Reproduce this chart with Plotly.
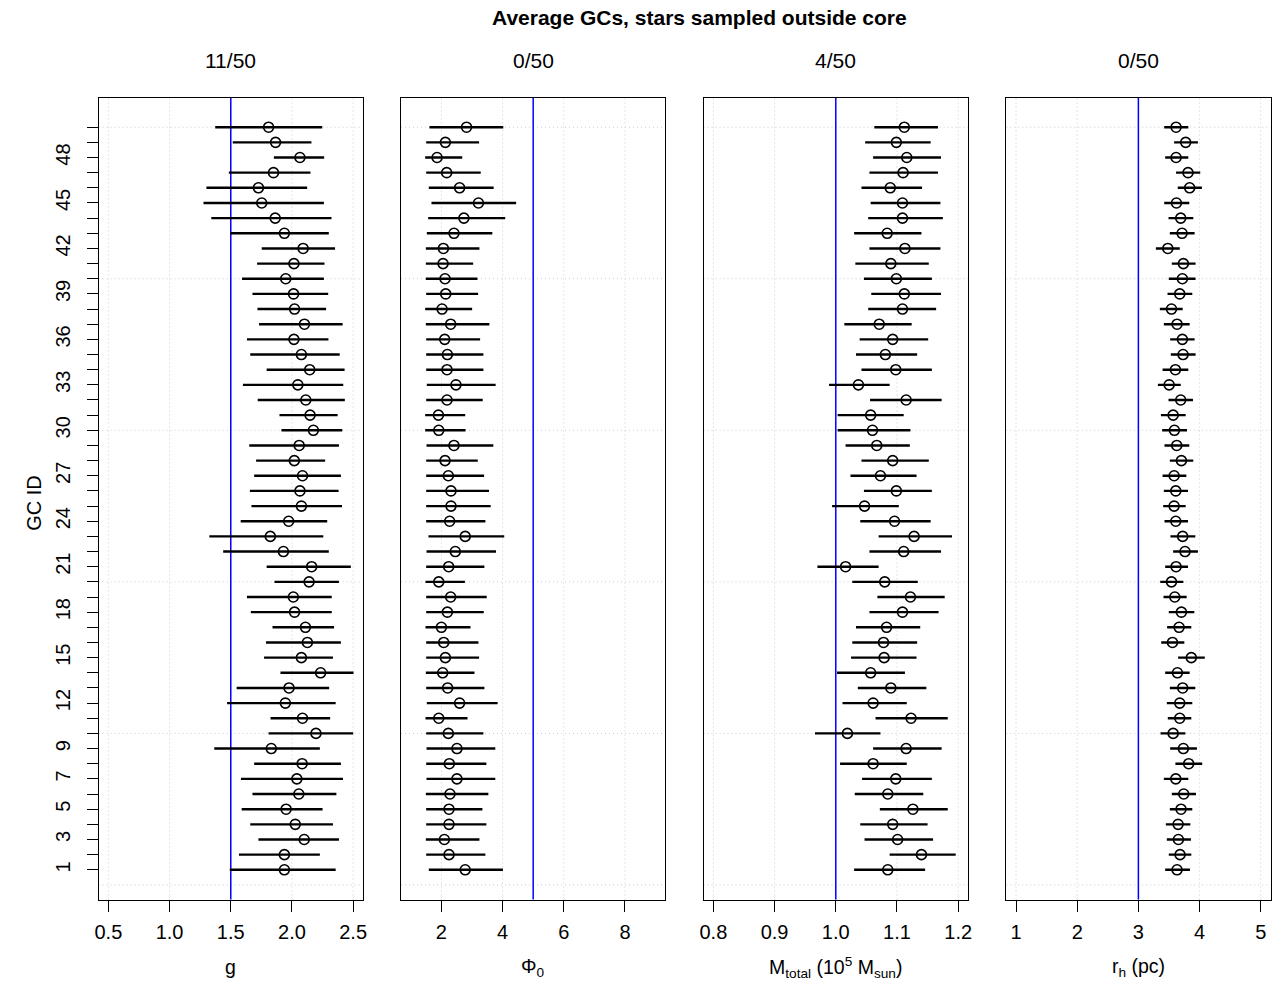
import plotly.graph_objects as go

# ---------------- data (GC 1 .. 50) ----------------
gc_ids = list(range(1, 51))

g_lo = [1.492, 1.567, 1.726, 1.659, 1.589, 1.677, 1.583, 1.691, 1.365, 1.809,
        1.825, 1.470, 1.548, 1.906, 1.772, 1.788, 1.841, 1.664, 1.632, 1.857,
        1.793, 1.438, 1.325, 1.581, 1.669, 1.656, 1.691, 1.707, 1.651, 1.914,
        1.898, 1.720, 1.599, 1.793, 1.659, 1.632, 1.731, 1.718, 1.677, 1.592,
        1.715, 1.753, 1.497, 1.341, 1.277, 1.301, 1.484, 1.852, 1.516, 1.373]
g_mid = [1.938, 1.938, 2.100, 2.027, 1.952, 2.056, 2.040, 2.083, 1.831, 2.196,
         2.086, 1.946, 1.976, 2.234, 2.077, 2.126, 2.110, 2.021, 2.011, 2.140,
         2.161, 1.930, 1.823, 1.973, 2.077, 2.065, 2.086, 2.019, 2.059, 2.175,
         2.148, 2.113, 2.048, 2.145, 2.077, 2.016, 2.102, 2.021, 2.013, 1.949,
         2.016, 2.091, 1.938, 1.863, 1.753, 1.726, 1.849, 2.065, 1.866, 1.809]
g_hi = [2.357, 2.228, 2.384, 2.335, 2.250, 2.363, 2.417, 2.400, 2.228, 2.500,
        2.312, 2.357, 2.304, 2.503, 2.335, 2.400, 2.344, 2.325, 2.325, 2.384,
        2.481, 2.301, 2.256, 2.288, 2.409, 2.381, 2.400, 2.271, 2.384, 2.411,
        2.373, 2.432, 2.419, 2.430, 2.390, 2.298, 2.414, 2.279, 2.296, 2.261,
        2.266, 2.352, 2.301, 2.323, 2.261, 2.124, 2.151, 2.263, 2.159, 2.247]

phi_lo = [1.589, 1.503, 1.492, 1.503, 1.503, 1.492, 1.514, 1.503, 1.514, 1.503,
          1.481, 1.524, 1.503, 1.492, 1.503, 1.503, 1.481, 1.503, 1.503, 1.481,
          1.503, 1.514, 1.578, 1.503, 1.503, 1.503, 1.503, 1.503, 1.514, 1.470,
          1.470, 1.503, 1.524, 1.503, 1.503, 1.503, 1.492, 1.470, 1.503, 1.492,
          1.492, 1.492, 1.524, 1.568, 1.676, 1.589, 1.503, 1.470, 1.503, 1.611]
phi_mid = [2.778, 2.249, 2.097, 2.249, 2.249, 2.281, 2.508, 2.259, 2.508, 2.227,
           1.914, 2.595, 2.205, 2.043, 2.130, 2.076, 2.000, 2.195, 2.303, 1.914,
           2.238, 2.454, 2.778, 2.270, 2.314, 2.314, 2.227, 2.119, 2.411, 1.914,
           1.903, 2.184, 2.476, 2.184, 2.195, 2.108, 2.303, 2.022, 2.141, 2.119,
           2.054, 2.065, 2.411, 2.735, 3.211, 2.595, 2.173, 1.859, 2.130, 2.822]
phi_hi = [4.011, 3.438, 3.243, 3.470, 3.341, 3.535, 3.762, 3.470, 3.762, 3.373,
          2.854, 3.838, 3.405, 3.081, 3.232, 3.211, 2.951, 3.384, 3.481, 2.768,
          3.405, 3.784, 4.054, 3.438, 3.611, 3.557, 3.395, 3.189, 3.697, 2.789,
          2.778, 3.351, 3.773, 3.373, 3.373, 3.265, 3.568, 3.005, 3.200, 3.178,
          3.038, 3.243, 3.665, 4.086, 4.443, 3.708, 3.286, 2.681, 3.232, 4.022]

m_lo = [1.030, 1.088, 1.047, 1.040, 1.072, 1.031, 1.043, 1.007, 1.061, 0.966,
        1.065, 1.011, 1.036, 1.002, 1.025, 1.027, 1.033, 1.055, 1.068, 1.027,
        0.970, 1.055, 1.070, 1.040, 0.994, 1.046, 1.024, 1.042, 1.016, 1.003,
        1.003, 1.056, 0.989, 1.042, 1.033, 1.039, 1.014, 1.053, 1.058, 1.046,
        1.032, 1.055, 1.030, 1.053, 1.057, 1.042, 1.055, 1.061, 1.048, 1.063]
m_mid = [1.085, 1.140, 1.101, 1.093, 1.126, 1.085, 1.098, 1.061, 1.115, 1.019,
         1.123, 1.061, 1.090, 1.057, 1.079, 1.078, 1.083, 1.109, 1.122, 1.080,
         1.016, 1.111, 1.128, 1.096, 1.047, 1.099, 1.073, 1.093, 1.067, 1.060,
         1.057, 1.115, 1.037, 1.098, 1.081, 1.093, 1.071, 1.109, 1.112, 1.099,
         1.090, 1.113, 1.084, 1.109, 1.109, 1.089, 1.110, 1.116, 1.099, 1.112]
m_hi = [1.146, 1.196, 1.159, 1.150, 1.183, 1.143, 1.157, 1.116, 1.173, 1.073,
        1.183, 1.116, 1.148, 1.113, 1.132, 1.133, 1.138, 1.168, 1.178, 1.134,
        1.070, 1.172, 1.190, 1.155, 1.103, 1.157, 1.132, 1.152, 1.121, 1.122,
        1.111, 1.173, 1.088, 1.157, 1.133, 1.151, 1.124, 1.164, 1.172, 1.157,
        1.152, 1.171, 1.140, 1.175, 1.171, 1.141, 1.167, 1.172, 1.155, 1.167]

rh_lo = [3.438, 3.497, 3.465, 3.449, 3.514, 3.546, 3.416, 3.605, 3.519, 3.362,
         3.481, 3.465, 3.514, 3.438, 3.649, 3.373, 3.470, 3.497, 3.411, 3.357,
         3.438, 3.568, 3.524, 3.427, 3.405, 3.416, 3.395, 3.514, 3.427, 3.389,
         3.368, 3.492, 3.319, 3.395, 3.530, 3.519, 3.416, 3.351, 3.476, 3.497,
         3.546, 3.286, 3.514, 3.492, 3.422, 3.643, 3.616, 3.438, 3.584, 3.422]
rh_mid = [3.632, 3.681, 3.654, 3.649, 3.697, 3.741, 3.611, 3.822, 3.735, 3.568,
          3.676, 3.676, 3.724, 3.638, 3.865, 3.557, 3.665, 3.703, 3.595, 3.541,
          3.616, 3.762, 3.724, 3.611, 3.584, 3.611, 3.584, 3.703, 3.627, 3.589,
          3.568, 3.692, 3.503, 3.605, 3.730, 3.719, 3.632, 3.541, 3.676, 3.719,
          3.735, 3.481, 3.714, 3.692, 3.622, 3.838, 3.811, 3.616, 3.773, 3.616]
rh_hi = [3.843, 3.865, 3.859, 3.849, 3.881, 3.941, 3.816, 4.043, 3.957, 3.768,
         3.865, 3.881, 3.930, 3.838, 4.086, 3.751, 3.865, 3.914, 3.789, 3.735,
         3.811, 3.973, 3.930, 3.811, 3.773, 3.811, 3.784, 3.897, 3.832, 3.795,
         3.773, 3.892, 3.692, 3.816, 3.935, 3.919, 3.838, 3.724, 3.881, 3.935,
         3.935, 3.676, 3.919, 3.897, 3.832, 4.038, 4.011, 3.816, 3.973, 3.816]

true_values = [1.5, 5.0, 1.0, 3.0]
panel_titles = ["11/50", "0/50", "4/50", "0/50"]
x_labels = ["g", "Φ<sub>0</sub>",
            "M<sub>total</sub> (10<sup>5</sup> M<sub>sun</sub>)",
            "r<sub>h</sub> (pc)"]
x_tickvals = [[0.5, 1.0, 1.5, 2.0, 2.5], [2, 4, 6, 8],
              [0.8, 0.9, 1.0, 1.1, 1.2], [1, 2, 3, 4, 5]]
x_ticktext = [["0.5", "1.0", "1.5", "2.0", "2.5"], ["2", "4", "6", "8"],
              ["0.8", "0.9", "1.0", "1.1", "1.2"], ["1", "2", "3", "4", "5"]]
x_ranges = [[0.42, 2.58], [0.68, 9.32], [0.784, 1.216], [0.84, 5.16]]
y_labelled = [1, 3, 5, 7, 9, 12, 15, 18, 21, 24, 27, 30, 33, 36, 39, 42, 45, 48]
y_grid = [0, 10, 20, 30, 40, 50]
main_title = "Average GCs, stars sampled outside core"

series = [(g_lo, g_mid, g_hi), (phi_lo, phi_mid, phi_hi),
          (m_lo, m_mid, m_hi), (rh_lo, rh_mid, rh_hi)]

# ---------------- layout geometry ----------------
W, H = 1283, 984
FONT = "Liberation Sans, Arial, Helvetica, sans-serif"
GRID = "#cccccc"
GRID_DASH = "1px,3px"
left_px = [95.2, 399.5, 704.0, 1008.5]
width_px = 266.0
top_px, bot_px = 97.5, 899.5
y_dom = [1 - bot_px / H, 1 - top_px / H]
y_range = [-0.96, 51.96]
TICK_SIZE = 20

fig = go.Figure()
shapes = []
annotations = []
layout = {}

for i, ((lo, mid, hi), ref) in enumerate(zip(series, true_values)):
    k = "" if i == 0 else str(i + 1)
    xa, ya = "x" + k, "y" + k
    # interval lines
    xs, ys = [], []
    for gid, a, b in zip(gc_ids, lo, hi):
        xs += [a, b, None]
        ys += [gid, gid, None]
    fig.add_trace(go.Scatter(x=xs, y=ys, mode="lines", xaxis=xa, yaxis=ya,
                             line=dict(color="black", width=2.4),
                             hoverinfo="skip", showlegend=False))
    fig.add_trace(go.Scatter(x=mid, y=gc_ids, mode="markers", xaxis=xa, yaxis=ya,
                             marker=dict(symbol="circle-open", size=10,
                                         color="black", line=dict(width=1.6)),
                             showlegend=False))
    x0 = left_px[i] / W
    x1 = (left_px[i] + width_px) / W
    layout["xaxis" + k] = dict(
        domain=[x0, x1], range=x_ranges[i], anchor=ya,
        tickmode="array", tickvals=x_tickvals[i], ticktext=x_ticktext[i],
        ticks="outside", ticklen=11, tickwidth=1, tickcolor="black",
        showline=True, mirror=True, linecolor="black", linewidth=1,
        showgrid=False, zeroline=False,
        tickfont=dict(family=FONT, size=TICK_SIZE, color="black"),
        ticklabelstandoff=3)
    yax = dict(domain=y_dom, range=y_range, anchor=xa,
               showline=True, mirror=True, linecolor="black", linewidth=1,
               showgrid=False, zeroline=False)
    if i == 0:
        yax.update(tickmode="array", tickvals=y_labelled,
                   ticktext=[str(v) for v in y_labelled],
                   ticks="outside", ticklen=11, tickwidth=1, tickcolor="black",
                   tickangle=-90,
                   tickfont=dict(family=FONT, size=TICK_SIZE, color="black"),
                   ticklabelstandoff=9,
                   minor=dict(tickmode="array", tickvals=gc_ids,
                              ticks="outside", ticklen=11, tickwidth=1,
                              tickcolor="black", showgrid=False))
    else:
        yax.update(showticklabels=False, ticks="")
    layout["yaxis" + k] = yax

    # dotted grid (drawn as shapes so the reference line sits on top)
    for v in y_grid:
        shapes.append(dict(type="line", xref=xa + " domain", yref=ya,
                           x0=0, x1=1, y0=v, y1=v, layer="below",
                           line=dict(color=GRID, width=1, dash=GRID_DASH)))
    for v in x_tickvals[i]:
        shapes.append(dict(type="line", xref=xa, yref=ya + " domain",
                           x0=v, x1=v, y0=0, y1=1, layer="below",
                           line=dict(color=GRID, width=1, dash=GRID_DASH)))
    shapes.append(dict(type="line", xref=xa, yref=ya + " domain",
                       x0=ref, x1=ref, y0=0, y1=1, layer="below",
                       line=dict(color="#0000ff", width=1.5)))
    cx = (x0 + x1) / 2
    annotations.append(dict(text=panel_titles[i], x=cx, y=1 - 60 / H,
                            xref="paper", yref="paper", showarrow=False,
                            xanchor="center", yanchor="middle",
                            font=dict(family=FONT, size=21, color="black")))
    annotations.append(dict(text=x_labels[i], x=cx, y=1 - 967 / H,
                            xref="paper", yref="paper", showarrow=False,
                            xanchor="center", yanchor="middle",
                            font=dict(family=FONT, size=19.5, color="black")))

annotations.append(dict(text="<b>" + main_title + "</b>", x=700 / W, y=1 - 17 / H,
                        xref="paper", yref="paper", showarrow=False,
                        xanchor="center", yanchor="middle",
                        font=dict(family=FONT, size=21, color="black")))
annotations.append(dict(text="GC ID", x=30 / W, y=1 - 503 / H,
                        xref="paper", yref="paper", showarrow=False,
                        textangle=-90, xanchor="center", yanchor="middle",
                        font=dict(family=FONT, size=20, color="black")))

fig.update_layout(width=W, height=H, margin=dict(l=0, r=0, t=0, b=0),
                  paper_bgcolor="white", plot_bgcolor="white",
                  shapes=shapes, annotations=annotations,
                  font=dict(family=FONT, color="black"), **layout)

fig.write_html("out.html", config={"displayModeBar": False},
               post_script="document.body.style.margin='0';"
                           "document.body.style.overflow='hidden';")
